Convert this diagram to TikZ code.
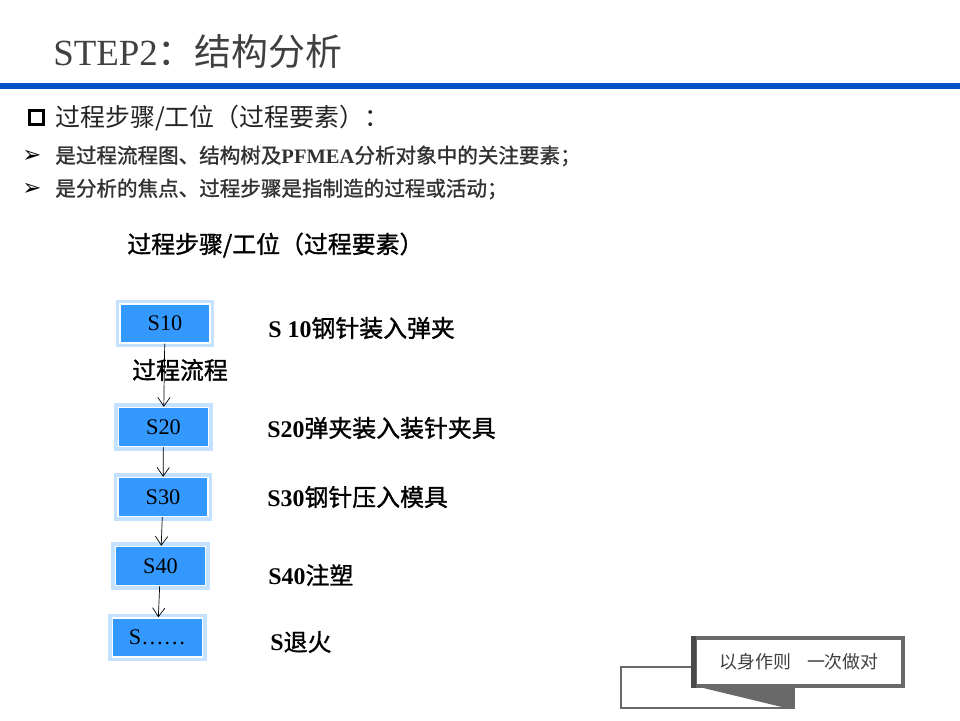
\documentclass[tikz,border=0pt]{standalone}
\usepackage{fontspec}
\setmainfont{Liberation Serif}
\newfontfamily\cjk{Noto Sans CJK SC}
\newfontfamily\cjkb[FakeBold=1.2]{Noto Sans CJK SC}
\newfontfamily\dingfont{DejaVu Sans}
\usepackage{xcolor}
\usetikzlibrary{arrows.meta,positioning,shadows}
\definecolor{barblue}{RGB}{0,80,200}
\definecolor{procblue}{RGB}{51,153,255}
\definecolor{glowblue}{RGB}{196,226,255}
\definecolor{titlegray}{RGB}{64,64,64}
\definecolor{headgray}{RGB}{35,35,35}
\definecolor{bodygray}{RGB}{50,50,50}
\definecolor{badgegray}{RGB}{105,105,105}

\begin{document}
\begin{tikzpicture}[x=0.02cm,y=-0.02cm,
    proc/.style={draw=white,line width=0.8pt,fill=procblue,minimum width=1.8cm,minimum height=0.78cm,
      inner sep=0pt,font=\fontsize{12.7}{14}\selectfont,preaction={draw=glowblue,line width=5pt}},
    desc/.style={anchor=west,inner sep=0pt,font=\cjkb\fontsize{13.6}{16}\selectfont},
    bul/.style={anchor=west,inner sep=0pt,text=bodygray,font=\cjkb\fontsize{11.7}{14}\selectfont},
    tip/.style={inner sep=0pt,font=\dingfont\fontsize{13}{14}\selectfont}]
  \useasboundingbox[fill=white] (0,0) rectangle (960,720);
  % title and bar
  \node[anchor=west,inner sep=0pt,text=titlegray,font=\fontsize{21}{24}\selectfont] (title) at (53,52) {STEP2{\cjk ：结构分析}};
  \fill[barblue] (0,83) rectangle (960,89);
  % heading and bullets
  \node[draw,line width=1.6pt,minimum size=0.29cm,inner sep=0pt] (chk) at (36.5,117.5) {};
  \node[anchor=west,inner sep=0pt,text=headgray,font=\cjk\fontsize{14.2}{16}\selectfont] (head) at (55,118) {过程步骤/工位（过程要素）：};
  \node[tip] (tip1) at (32,156) {➢};
  \node[bul] (line1) at (55,156) {是过程流程图、结构树及{\rmfamily\bfseries PFMEA}分析对象中的关注要素；};
  \node[tip] (tip2) at (32,189) {➢};
  \node[bul] (line2) at (55,189) {是分析的焦点、过程步骤是指制造的过程或活动；};
  \node[anchor=west,inner sep=0pt,font=\cjkb\fontsize{13.6}{16}\selectfont] (sub) at (127,245) {过程步骤/工位（过程要素）};
  % process boxes
  \node[proc] (s10) at (165,323.5) {S10};
  \node[proc] (s20) at (163.5,427) {S20};
  \node[proc] (s30) at (163,497) {S30};
  \node[proc] (s40) at (160.5,566) {S40};
  \node[proc] (s50) at (157.5,637.5) {S……};
  \node[inner sep=0pt,font=\cjkb\fontsize{13.6}{16}\selectfont] (flow) at (180,370) {过程流程};
  \foreach \a/\b in {s10/s20,s20/s30,s30/s40,s40/s50}
    \draw[-{Straight Barb[length=5pt,width=7pt]},thin] (\a) -- (\b);
  % step descriptions
  \node[desc] (d10) at (268,328) {{\rmfamily\bfseries S\ 10}钢针装入弹夹};
  \node[desc] (d20) at (267,428) {{\rmfamily\bfseries S20}弹夹装入装针夹具};
  \node[desc] (d30) at (267,497) {{\rmfamily\bfseries S30}钢针压入模具};
  \node[desc] (d40) at (268,575) {{\rmfamily\bfseries S40}注塑};
  \node[desc] (d50) at (270,642) {{\rmfamily\bfseries S}退火};
  % badge
  \draw[badgegray,line width=1.6pt] (695,667) -- (621,667) -- (621,708) -- (794,708) -- (794,686);
  \fill[badgegray] (695,686) -- (794,686) -- (794,708) -- (786,708) -- cycle;
  \node[draw=badgegray,line width=1.8pt,fill=white,minimum width=4.16cm,minimum height=0.96cm,
    drop shadow={shadow xshift=1.2pt,shadow yshift=-1.2pt,opacity=0.35},
    text=titlegray,font=\cjk\fontsize{10.2}{12}\selectfont] (motto) at (799,662) {以身作则\hspace{0.9em}一次做对};
  \draw[badgegray!70!black,line width=2.4pt] (motto.north west) -- (motto.south west);
\end{tikzpicture}
\end{document}
